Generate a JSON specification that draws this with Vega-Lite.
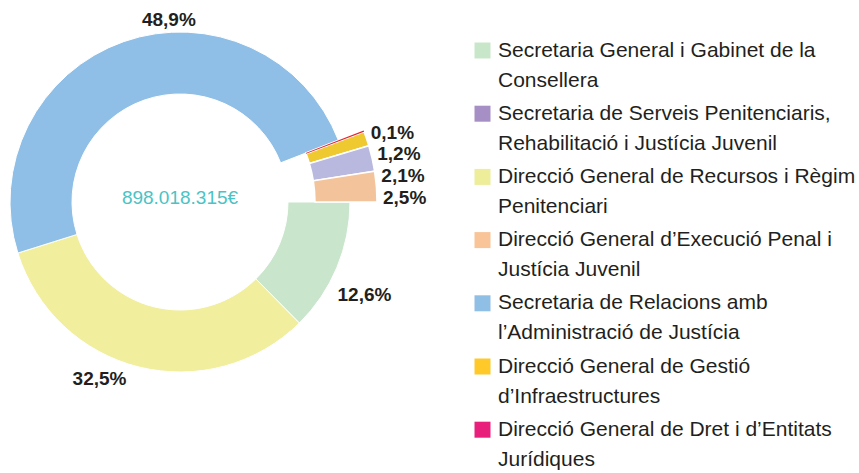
{
  "$schema": "https://vega.github.io/schema/vega-lite/v6.json",
  "width": 360,
  "height": 404,
  "padding": 0,
  "autosize": {"type": "pad"},
  "background": "white",
  "config": {
    "view": {"stroke": null},
    "font": "Liberation Sans",
    "locale": {"number": {"decimal": ",", "thousands": ".", "grouping": [3], "currency": ["", "€"]}},
    "style": {"guide-label": {"lineHeight": 30, "dy": -11}}
  },
  "datasets": {
    "slices": [
      {"name": "Secretaria General i Gabinet de la Consellera", "pct": 12.6},
      {"name": "Direcció General de Recursos i Règim Penitenciari", "pct": 32.5},
      {"name": "Secretaria de Relacions amb l’Administració de Justícia", "pct": 48.9},
      {"name": "Direcció General de Dret i d’Entitats Jurídiques", "pct": 0.1},
      {"name": "Direcció General de Gestió d’Infraestructures", "pct": 1.2},
      {"name": "Secretaria de Serveis Penitenciaris, Rehabilitació i Justícia Juvenil", "pct": 2.1},
      {"name": "Direcció General d’Execució Penal i Justícia Juvenil", "pct": 2.5}
    ],
    "total": [{"amount": 898018315}]
  },
  "data": {"name": "slices"},
  "transform": [
    {"stack": "pct", "groupby": [], "offset": "normalize", "as": ["t0", "t1"]},
    {"calculate": "datum.t0 + 0.59 * (datum.t1 - datum.t0)", "as": "tlab"},
    {"calculate": "PI / 2 + 2 * PI * datum.tlab", "as": "ang"},
    {"calculate": "datum.pct / 100", "as": "frac"}
  ],
  "resolve": {"scale": {"theta": "independent"}},
  "layer": [
    {
      "transform": [{"filter": "datum.pct >= 3"}],
      "mark": {"type": "arc", "radius": 170, "radius2": 108, "stroke": "white", "strokeWidth": 1},
      "encoding": {
        "theta": {"field": "t0", "type": "quantitative", "scale": {"domain": [0, 1], "range": [1.5708, 7.854]}},
        "theta2": {"field": "t1"},
        "fill": {
          "field": "name", "type": "nominal", "legend": null,
          "scale": {
            "domain": [
              "Secretaria General i Gabinet de la Consellera",
              "Direcció General de Recursos i Règim Penitenciari",
              "Secretaria de Relacions amb l’Administració de Justícia",
              "Direcció General de Dret i d’Entitats Jurídiques",
              "Direcció General de Gestió d’Infraestructures",
              "Secretaria de Serveis Penitenciaris, Rehabilitació i Justícia Juvenil",
              "Direcció General d’Execució Penal i Justícia Juvenil"
            ],
            "range": ["#C9E5CC", "#F1EE9D", "#8FBFE6", "#E8242C", "#EEC930", "#B9B8DE", "#F3C49B"]
          }
        }
      }
    },
    {
      "transform": [{"filter": "datum.pct < 3"}],
      "mark": {"type": "arc", "radius": 197, "radius2": 135, "stroke": "white", "strokeWidth": 1.5},
      "encoding": {
        "theta": {"field": "t0", "type": "quantitative", "scale": {"domain": [0, 1], "range": [1.5708, 7.854]}},
        "theta2": {"field": "t1"},
        "fill": {"field": "name", "type": "nominal", "legend": null}
      }
    },
    {
      "transform": [{"filter": "datum.pct < 0.5"}],
      "mark": {"type": "arc", "radius": 197, "radius2": 135},
      "encoding": {
        "theta": {"field": "t0", "type": "quantitative", "scale": {"domain": [0, 1], "range": [1.5708, 7.854]}},
        "theta2": {"field": "t1"},
        "fill": {"field": "name", "type": "nominal", "legend": null}
      }
    },
    {
      "mark": {"type": "arc", "radius": 0, "radius2": 0},
      "encoding": {
        "color": {
          "field": "name", "type": "nominal",
          "scale": {
            "domain": [
              "Secretaria General i Gabinet de la Consellera",
              "Secretaria de Serveis Penitenciaris, Rehabilitació i Justícia Juvenil",
              "Direcció General de Recursos i Règim Penitenciari",
              "Direcció General d’Execució Penal i Justícia Juvenil",
              "Secretaria de Relacions amb l’Administració de Justícia",
              "Direcció General de Gestió d’Infraestructures",
              "Direcció General de Dret i d’Entitats Jurídiques"
            ],
            "range": ["#C8E6C9", "#A68FC5", "#EDED9A", "#F9C497", "#90BFE6", "#FFC929", "#E8207C"]
          },
          "legend": {
            "orient": "none",
            "legendX": 472,
            "legendY": 40,
            "title": null,
            "padding": 0,
            "symbolType": "square",
            "symbolSize": 256,
            "symbolStrokeWidth": 0,
            "symbolOpacity": 1,
            "labelFont": "Liberation Sans",
            "labelFontSize": 21,
            "labelColor": "#231F20",
            "labelLimit": 420,
            "labelOffset": 5,
            "labelBaseline": "top",
            "rowPadding": 11.2,
            "labelExpr": "split(replace(datum.label, regexp('^(.{1,37}) '), '$1\\n'), '\\n')"
          }
        }
      }
    },
    {
      "transform": [{"filter": "datum.pct >= 3"}],
      "mark": {"type": "text", "radius": {"expr": "170 + 36 * abs(sin(datum.ang)) + 10 * abs(cos(datum.ang))"}, "fontSize": 19, "fontWeight": "bold", "font": "Liberation Sans", "color": "#231F20", "align": "center", "baseline": "middle"},
      "encoding": {
        "theta": {"field": "tlab", "type": "quantitative", "scale": {"domain": [0, 1], "range": [1.5708, 7.854]}},
        "text": {"field": "frac", "type": "quantitative", "format": ".1%"}
      }
    },
    {
      "transform": [
        {"filter": "datum.pct < 3"},
        {"window": [{"op": "row_number", "as": "slot"}]}
      ],
      "mark": {"type": "text", "radius": 203, "fontSize": 19, "fontWeight": "bold", "font": "Liberation Sans", "color": "#231F20", "align": "left", "baseline": "middle"},
      "encoding": {
        "theta": {"field": "slot", "type": "quantitative", "scale": {"domain": [1, 4], "range": [1.2217, 1.5533]}},
        "text": {"field": "frac", "type": "quantitative", "format": ".1%"}
      }
    },
    {
      "data": {"name": "total"},
      "mark": {"type": "text", "fontSize": 19, "font": "Liberation Sans", "color": "#4BC3C5", "align": "center", "baseline": "middle", "dy": -4},
      "encoding": {
        "text": {"field": "amount", "type": "quantitative", "format": "$,.0f"}
      }
    }
  ]
}
